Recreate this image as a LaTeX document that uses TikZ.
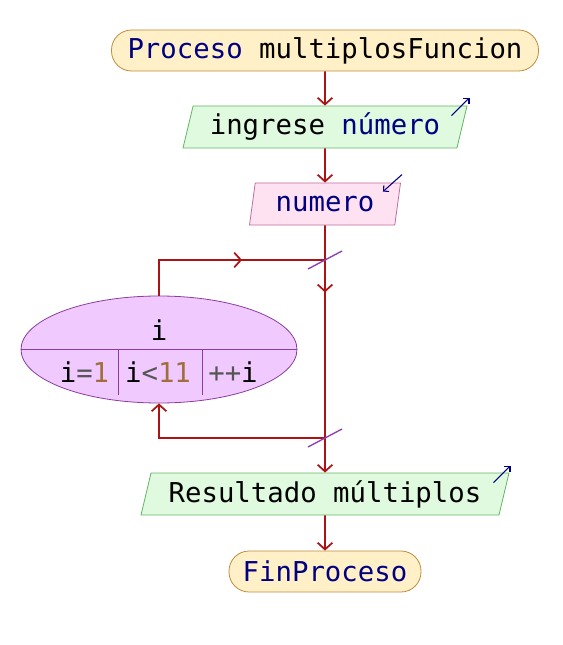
\documentclass[tikz,border=0pt]{standalone}
\usepackage{fontspec}
\setmonofont{DejaVu Sans Mono}
\usepackage{tikz}
\usetikzlibrary{shapes.geometric,arrows.meta,decorations.markings}

\definecolor{flujo}{RGB}{170,20,20}
\definecolor{azulps}{RGB}{0,0,128}
\definecolor{numps}{RGB}{160,110,60}
\definecolor{opps}{RGB}{85,85,85}
\definecolor{procfill}{RGB}{255,240,200}
\definecolor{procdraw}{RGB}{190,140,60}
\definecolor{iofill}{RGB}{224,250,224}
\definecolor{iodraw}{RGB}{100,180,100}
\definecolor{leefill}{RGB}{255,226,242}
\definecolor{leedraw}{RGB}{190,110,160}
\definecolor{ciclofill}{RGB}{240,202,255}
\definecolor{ciclodraw}{RGB}{140,60,160}
\definecolor{corte}{RGB}{140,60,180}

\begin{document}
\begin{tikzpicture}[x=0.75pt,y=-0.75pt,>={Straight Barb[length=5pt,width=11pt]},
		font=\ttfamily\fontsize{20.5}{24}\selectfont,
		proc/.style={rectangle, rounded corners=15pt, draw=procdraw, fill=procfill,
			minimum height=30.75pt, inner sep=0pt, line width=0.6pt},
		es/.style={trapezium, trapezium left angle=70, trapezium right angle=110,
			trapezium stretches body, minimum height=31.5pt, inner sep=0pt, line width=0.6pt},
		escribe/.style={es, draw=iodraw, fill=iofill},
		lee/.style={es, draw=leedraw, fill=leefill},
		flecha/.style={flujo, line width=1.3pt},
		eco/.style={azulps, line width=0.8pt, -{Straight Barb[length=3pt,width=6pt]}},
		corta/.style={corte, line width=1pt},
		marca/.style={postaction={decorate, decoration={markings,
			mark=at position #1 with {\arrow{>}}}}}]
		%\draw [help lines] (0,0) grid (562,645);
		\useasboundingbox (0,0) rectangle (562,645);
		%nodos
		\node[proc, minimum width=320.25pt] (inicio) at (325,50.5)
			{{\color{azulps}Proceso} multiplosFuncion};
		\node[escribe, minimum width=213pt] (ingrese) at (325,127)
			{ingrese {\color{azulps}número}};
		\node[lee, minimum width=113.25pt] (numero) at (325,204)
			{\color{azulps}numero};
		\node[escribe, minimum width=276pt] (resultado) at (325,494)
			{Resultado múltiplos};
		\node[proc, minimum width=144pt] (fin) at (325,571.5)
			{\color{azulps}FinProceso};
		%ciclo
		\node[ellipse, draw=ciclodraw, fill=ciclofill, line width=0.6pt,
			minimum width=207pt, minimum height=80.25pt, inner sep=0pt] (ciclo) at (159,349.5) {};
		\draw[ciclodraw, line width=0.6pt] (ciclo.west) -- (ciclo.east);
		\draw[ciclodraw, line width=0.6pt] (118,349.5) -- (118,395);
		\draw[ciclodraw, line width=0.6pt] (202,349.5) -- (202,395);
		\node (var) at (159,330) {i};
		\node (desde) at (84.5,372) {i{\color{opps}=}{\color{numps}1}};
		\node (hasta) at (158,372) {i{\color{opps}<}{\color{numps}11}};
		\node (paso) at (233,372) {{\color{opps}++}i};
		%flujo
		\coordinate (jsup) at (325,260);
		\coordinate (jinf) at (325,438);
		\draw[flecha, ->] (inicio.south) -- (ingrese.north);
		\draw[flecha, ->] (ingrese.south) -- (numero.north);
		\draw[flecha, ->, marca=50.25pt] (numero.south) -- (jinf) -- (resultado.north);
		\draw[flecha, marca=89pt] (ciclo.north) |- (jsup);
		\draw[flecha, ->] (jinf) -| (ciclo.south);
		\draw[flecha, ->] (resultado.south) -- (fin.north);
		\draw[corta] ([shift={(-17,9)}]jsup) -- ([shift={(17,-9)}]jsup);
		\draw[corta] ([shift={(-17,9)}]jinf) -- ([shift={(17,-9)}]jinf);
		%eco
		\draw[eco] ([shift={(-16,10)}]ingrese.top right corner) -- ([shift={(2,-8)}]ingrese.top right corner);
		\draw[eco] ([shift={(1,-8)}]numero.top right corner) -- ([shift={(-18,9)}]numero.top right corner);
		\draw[eco] ([shift={(-16,10)}]resultado.top right corner) -- ([shift={(1,-7)}]resultado.top right corner);
	\end{tikzpicture}
\end{document}
